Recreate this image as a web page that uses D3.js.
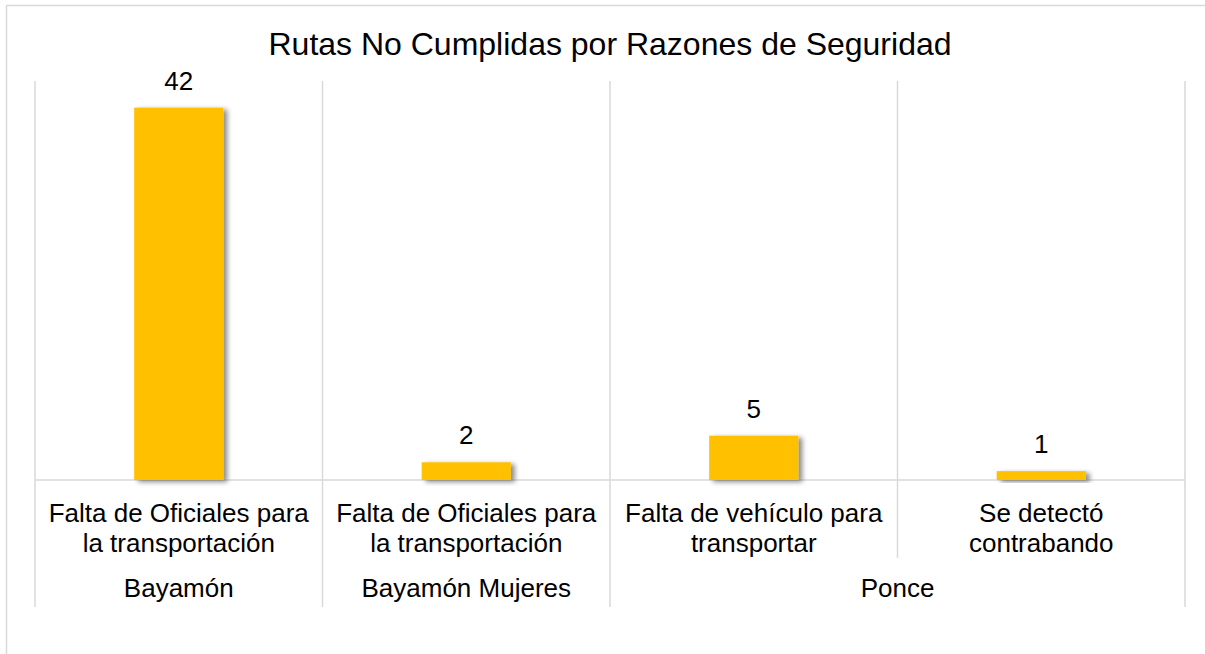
<!DOCTYPE html>
<html>
<head>
<meta charset="utf-8">
<script src="https://cdn.jsdelivr.net/npm/d3@7"></script>
<style>
  body { margin: 0; background: #fff; }
  text { font-family: "Liberation Sans", Arial, sans-serif; fill: #000; }
</style>
</head>
<body>
<div id="chart"></div>
<script>
// data
var titleText = "Rutas No Cumplidas por Razones de Seguridad";
var categories = [
    ["Falta de Oficiales para", "la transportación"],
    ["Falta de Oficiales para", "la transportación"],
    ["Falta de vehículo para", "transportar"],
    ["Se detectó", "contrabando"]
];
var groups = ["Bayamón", "Bayamón Mujeres", "Ponce"];
var groupSpans = [1, 1, 2];
var values = [42, 2, 5, 1];

var W = 1205, H = 654;
var plot = { left: 35, right: 1185, top: 81, bottom: 480 };

var svg = d3.select("#chart")
    .append("svg")
    .attr("width", W)
    .attr("height", H);

// shadow for bars
var defs = svg.append("defs");
defs.append("filter")
    .attr("id", "shadow")
    .attr("x", "-20%").attr("y", "-20%")
    .attr("width", "150%").attr("height", "150%")
    .append("feDropShadow")
    .attr("dx", 4).attr("dy", 2)
    .attr("stdDeviation", 2.5)
    .attr("flood-color", "#000")
    .attr("flood-opacity", 0.45);

// chart border
svg.append("rect")
    .attr("x", 6.5).attr("y", 5.5)
    .attr("width", W + 10).attr("height", H + 10)
    .attr("fill", "none")
    .attr("stroke", "#d9d9d9")
    .attr("stroke-width", 1.5);

var x = d3.scaleBand()
    .domain(d3.range(values.length))
    .range([plot.left, plot.right])
    .padding(0);

var y = d3.scaleLinear()
    .domain([0, 45])
    .range([plot.bottom, plot.top]);

// title
svg.append("text")
    .attr("x", (plot.left + plot.right) / 2)
    .attr("y", 55)
    .attr("text-anchor", "middle")
    .style("font-size", "32px")
    .text(titleText);

// vertical separators
var fullLines = [0, 1, 2, 4];
svg.append("g")
    .selectAll("line")
    .data(fullLines)
    .enter()
    .append("line")
    .attr("x1", function (d) { return plot.left + d * x.bandwidth(); })
    .attr("x2", function (d) { return plot.left + d * x.bandwidth(); })
    .attr("y1", plot.top)
    .attr("y2", 607)
    .attr("stroke", "#d9d9d9")
    .attr("stroke-width", 1.5);

svg.append("line")
    .attr("x1", plot.left + 3 * x.bandwidth())
    .attr("x2", plot.left + 3 * x.bandwidth())
    .attr("y1", plot.top)
    .attr("y2", 558)
    .attr("stroke", "#d9d9d9")
    .attr("stroke-width", 1.5);

// baseline
svg.append("line")
    .attr("x1", plot.left).attr("x2", plot.right)
    .attr("y1", y(0)).attr("y2", y(0))
    .attr("stroke", "#d9d9d9")
    .attr("stroke-width", 1.5);

// bars
var barW = x.bandwidth() * 0.31;
svg.append("g")
    .selectAll("rect")
    .data(values)
    .enter()
    .append("rect")
    .attr("x", function (d, i) { return x(i) + (x.bandwidth() - barW) / 2; })
    .attr("y", function (d) { return y(d); })
    .attr("width", barW)
    .attr("height", function (d) { return y(0) - y(d); })
    .attr("fill", "#ffc000")
    .attr("filter", "url(#shadow)");

// value labels
svg.append("g")
    .selectAll("text")
    .data(values)
    .enter()
    .append("text")
    .attr("x", function (d, i) { return x(i) + x.bandwidth() / 2; })
    .attr("y", function (d) { return y(d) - 18; })
    .attr("text-anchor", "middle")
    .style("font-size", "26px")
    .text(function (d) { return d; });

// category labels
var cat = svg.append("g")
    .selectAll("text")
    .data(categories)
    .enter()
    .append("text")
    .attr("text-anchor", "middle")
    .style("font-size", "26px");
cat.selectAll("tspan")
    .data(function (d, i) { return d.map(function (s) { return { s: s, i: i }; }); })
    .enter()
    .append("tspan")
    .attr("x", function (d) { return x(d.i) + x.bandwidth() / 2; })
    .attr("y", function (d, j) { return 522 + j * 30; })
    .text(function (d) { return d.s; });

// group labels
var start = 0;
groups.forEach(function (g, k) {
    var cx = x(start) + groupSpans[k] * x.bandwidth() / 2;
    svg.append("text")
        .attr("x", cx)
        .attr("y", 597)
        .attr("text-anchor", "middle")
        .style("font-size", "26px")
        .text(g);
    start += groupSpans[k];
});
</script>
</body>
</html>
